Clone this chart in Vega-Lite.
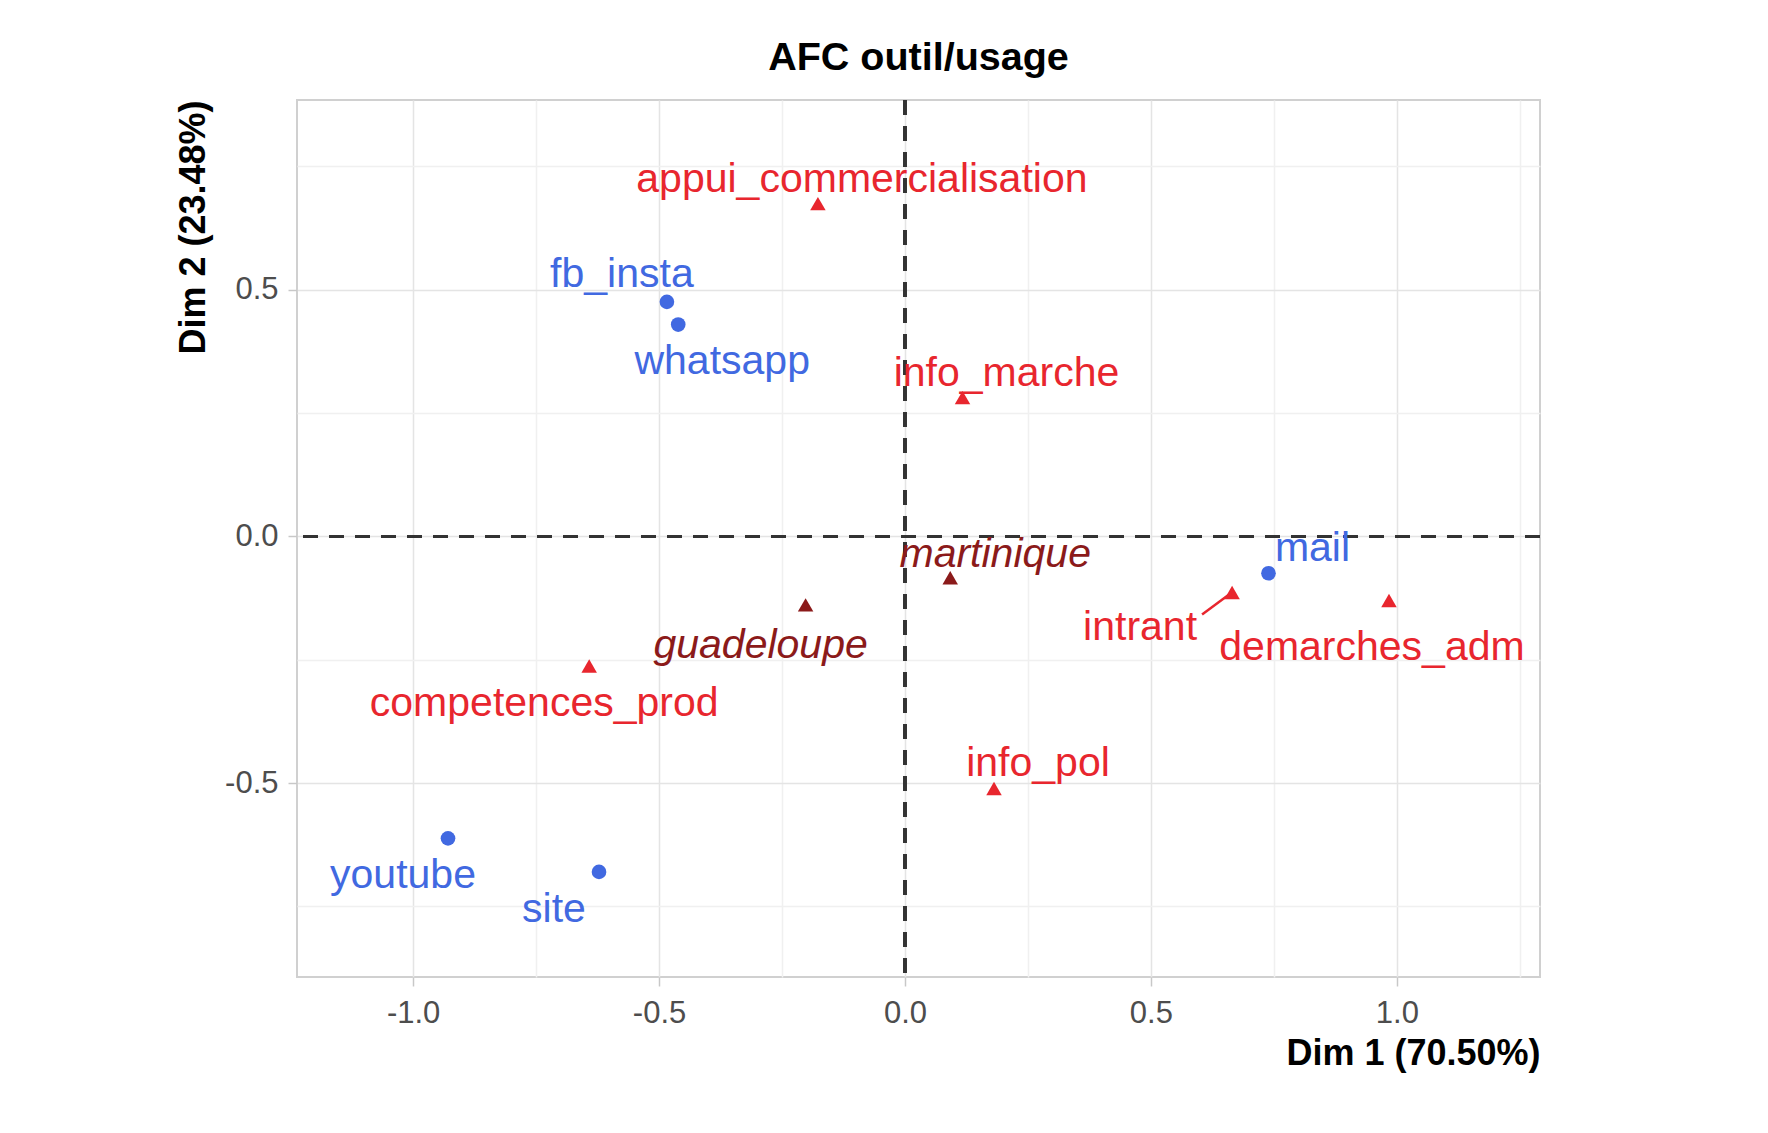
{
  "$schema": "https://vega.github.io/schema/vega-lite/v6.json",
  "width": 1243,
  "height": 877,
  "autosize": {"type": "none"},
  "padding": {"left": 297, "top": 100, "right": 228, "bottom": 156},
  "background": "white",
  "title": {
    "text": "AFC outil/usage",
    "fontSize": 39.5,
    "font": "Liberation Sans",
    "fontWeight": "bold",
    "color": "#000000",
    "anchor": "middle",
    "frame": "group",
    "baseline": "alphabetic",
    "offset": -11
  },
  "config": {
    "view": {"stroke": "#D0D0D0", "strokeWidth": 2},
    "text": {"font": "Liberation Sans"}
  },
  "data": {
    "values": [
      {"name": "appui_commercialisation", "x": -0.177, "y": 0.674, "groupe": "row"},
      {"name": "fb_insta", "x": -0.484, "y": 0.475, "groupe": "col"},
      {"name": "whatsapp", "x": -0.461, "y": 0.429, "groupe": "col"},
      {"name": "info_marche", "x": 0.117, "y": 0.281, "groupe": "row"},
      {"name": "martinique", "x": 0.092, "y": -0.084, "groupe": "sup"},
      {"name": "mail", "x": 0.739, "y": -0.075, "groupe": "col"},
      {"name": "intrant", "x": 0.665, "y": -0.114, "groupe": "row"},
      {"name": "demarches_adm", "x": 0.984, "y": -0.13, "groupe": "row"},
      {"name": "guadeloupe", "x": -0.202, "y": -0.139, "groupe": "sup"},
      {"name": "competences_prod", "x": -0.642, "y": -0.263, "groupe": "row"},
      {"name": "info_pol", "x": 0.181, "y": -0.511, "groupe": "row"},
      {"name": "youtube", "x": -0.929, "y": -0.612, "groupe": "col"},
      {"name": "site", "x": -0.622, "y": -0.68, "groupe": "col"}
    ]
  },
  "encoding": {
    "x": {
      "field": "x",
      "type": "quantitative",
      "scale": {"domain": [-1.236, 1.291], "nice": false, "zero": false},
      "axis": {
        "title": "Dim 1 (70.50%)",
        "values": [-1.25, -1, -0.75, -0.5, -0.25, 0, 0.25, 0.5, 0.75, 1, 1.25],
        "labelExpr": "abs(datum.value*2 - round(datum.value*2)) < 0.001 ? replace(format(datum.value, '.1f'), '\u2212', '-') : ''",
        "labelFont": "Liberation Sans",
        "labelFontSize": 31,
        "labelColor": "#4D4D4D",
        "labelPadding": 12,
        "labelFlush": false,
        "labelOverlap": false,
        "domain": false,
        "ticks": true,
        "tickSize": 9,
        "tickWidth": 1.5,
        "tickColor": "#C8C8C8",
        "tickOpacity": {"condition": {"test": "abs(datum.value*2 - round(datum.value*2)) < 0.001", "value": 1}, "value": 0},
        "grid": true,
        "gridColor": {"condition": {"test": "abs(datum.value*2 - round(datum.value*2)) < 0.001", "value": "#E4E4E4"}, "value": "#F0F0F0"},
        "gridWidth": 1.5,
        "titleFont": "Liberation Sans",
        "titleFontSize": 36,
        "titleFontWeight": "bold",
        "titleColor": "#000000",
        "titleAnchor": "end",
        "titlePadding": 8
      }
    },
    "y": {
      "field": "y",
      "type": "quantitative",
      "scale": {"domain": [-0.893, 0.884], "nice": false, "zero": false},
      "axis": {
        "title": "Dim 2 (23.48%)",
        "values": [-0.75, -0.5, -0.25, 0, 0.25, 0.5, 0.75],
        "labelExpr": "abs(datum.value*2 - round(datum.value*2)) < 0.001 ? replace(format(datum.value, '.1f'), '\u2212', '-') : ''",
        "labelFont": "Liberation Sans",
        "labelFontSize": 31,
        "labelColor": "#4D4D4D",
        "labelPadding": 10,
        "labelFlush": false,
        "labelOverlap": false,
        "domain": false,
        "ticks": true,
        "tickSize": 9,
        "tickWidth": 1.5,
        "tickColor": "#C8C8C8",
        "tickOpacity": {"condition": {"test": "abs(datum.value*2 - round(datum.value*2)) < 0.001", "value": 1}, "value": 0},
        "grid": true,
        "gridColor": {"condition": {"test": "abs(datum.value*2 - round(datum.value*2)) < 0.001", "value": "#E4E4E4"}, "value": "#F0F0F0"},
        "gridWidth": 1.5,
        "titleFont": "Liberation Sans",
        "titleFontSize": 36,
        "titleFontWeight": "bold",
        "titleColor": "#000000",
        "titleAnchor": "end",
        "titlePadding": 12
      }
    },
    "color": {
      "field": "groupe",
      "type": "nominal",
      "scale": {"domain": ["col", "row", "sup"], "range": ["#4169E1", "#E8262E", "#8B1A1A"]},
      "legend": null
    }
  },
  "layer": [
    {
      "mark": {"type": "rule", "color": "#333333", "strokeWidth": 2.5, "strokeDash": [15, 11]},
      "encoding": {"x": {"datum": 0, "type": "quantitative"}, "y": null, "color": null}
    },
    {
      "mark": {"type": "rule", "color": "#333333", "strokeWidth": 2.5, "strokeDash": [15, 11]},
      "encoding": {"y": {"datum": 0, "type": "quantitative"}, "x": null, "color": null}
    },
    {
      "transform": [{"filter": "datum.name === 'intrant'"}],
      "mark": {"type": "rule", "strokeWidth": 2.5, "xOffset": -3, "yOffset": 2, "x2Offset": -30, "y2Offset": 22},
      "encoding": {"x2": {"field": "x"}, "y2": {"field": "y"}}
    },
    {
      "transform": [{"filter": "datum.groupe === 'col'"}],
      "mark": {"type": "point", "filled": true, "opacity": 1, "size": 215, "shape": "circle"}
    },
    {
      "transform": [{"filter": "datum.groupe !== 'col'"}],
      "mark": {"type": "point", "filled": true, "opacity": 1, "size": 240, "shape": "triangle-up"}
    },
    {
      "transform": [{"filter": {"field": "name", "oneOf": ["appui_commercialisation", "info_marche", "mail", "info_pol"]}}],
      "mark": {"type": "text", "dx": 44, "dy": -24, "fontSize": 41, "baseline": "middle", "align": "center"},
      "encoding": {"text": {"field": "name"}}
    },
    {
      "transform": [{"filter": {"field": "name", "oneOf": ["martinique"]}}],
      "mark": {"type": "text", "dx": 45, "dy": -23, "fontSize": 41, "fontStyle": "italic", "baseline": "middle", "align": "center"},
      "encoding": {"text": {"field": "name"}}
    },
    {
      "transform": [{"filter": {"field": "name", "oneOf": ["competences_prod", "youtube", "site"]}}],
      "mark": {"type": "text", "dx": -45, "dy": 38, "fontSize": 41, "baseline": "middle", "align": "center"},
      "encoding": {"text": {"field": "name"}}
    },
    {
      "transform": [{"filter": {"field": "name", "oneOf": ["guadeloupe"]}}],
      "mark": {"type": "text", "dx": -45, "dy": 41, "fontSize": 41, "fontStyle": "italic", "baseline": "middle", "align": "center"},
      "encoding": {"text": {"field": "name"}}
    },
    {
      "transform": [{"filter": {"field": "name", "oneOf": ["whatsapp"]}}],
      "mark": {"type": "text", "dx": 44, "dy": 37, "fontSize": 41, "baseline": "middle", "align": "center"},
      "encoding": {"text": {"field": "name"}}
    },
    {
      "transform": [{"filter": {"field": "name", "oneOf": ["fb_insta"]}}],
      "mark": {"type": "text", "dx": -45, "dy": -27, "fontSize": 41, "baseline": "middle", "align": "center"},
      "encoding": {"text": {"field": "name"}}
    },
    {
      "transform": [{"filter": {"field": "name", "oneOf": ["intrant"]}}],
      "mark": {"type": "text", "dx": -92, "dy": 35, "fontSize": 41, "baseline": "middle", "align": "center"},
      "encoding": {"text": {"field": "name"}}
    },
    {
      "transform": [{"filter": {"field": "name", "oneOf": ["demarches_adm"]}}],
      "mark": {"type": "text", "dx": -17, "dy": 48, "fontSize": 41, "baseline": "middle", "align": "center"},
      "encoding": {"text": {"field": "name"}}
    }
  ]
}
